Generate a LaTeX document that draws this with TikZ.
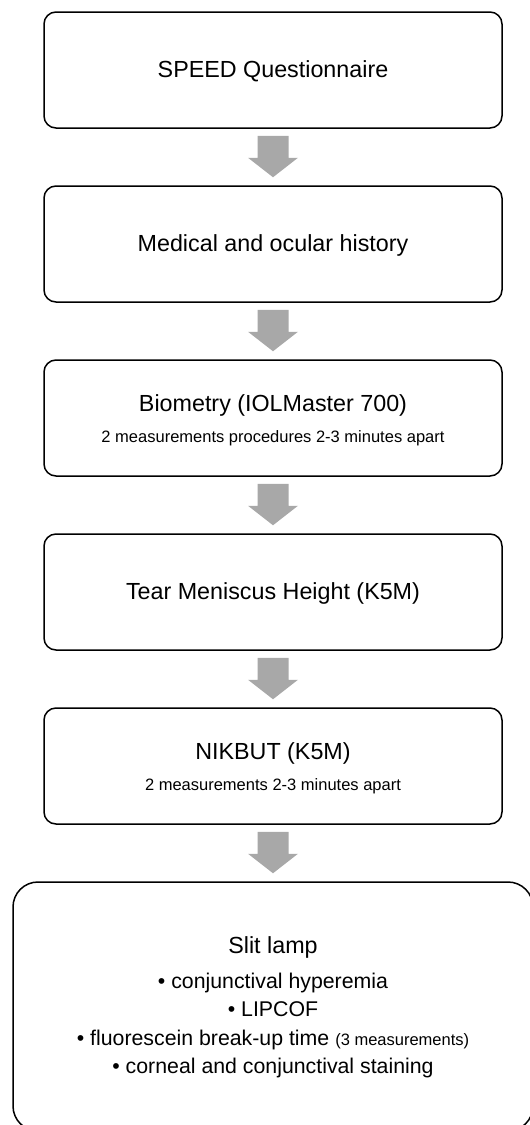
\documentclass[tikz,border=0pt]{standalone}
\usepackage{fontspec}
\setmainfont{Liberation Sans}
\usetikzlibrary{calc}
\definecolor{arrowgray}{RGB}{168,168,168}
\tikzset{
  stepbox/.style={draw=black, line width=1.5pt, rounded corners=12pt, minimum width=458pt, minimum height=116pt, inner sep=0pt},
  bigbox/.style={draw=black, line width=1.5pt, rounded corners=25pt, minimum width=520pt, minimum height=249pt, inner sep=0pt},
  maintext/.style={font=\fontsize{23.3}{27}\selectfont, anchor=base, inner sep=0pt},
  bullettext/.style={font=\fontsize{21.3}{25}\selectfont, anchor=base, inner sep=0pt},
  subtext/.style={font=\fontsize{16.5}{20}\selectfont, anchor=base, inner sep=0pt},
  blockarrow/.style={fill=arrowgray, draw=none}
}
\newcommand{\flowarrow}[2]{%
  \fill[blockarrow] ($(#1.south)+(-15.5,7)$) -- ($(#1.south)+(15.5,7)$) -- ($(#1.south)+(15.5,29)$) -- ($(#1.south)+(25,29)$) -- ($(#2.north)+(0,-8)$) -- ($(#1.south)+(-25,29)$) -- ($(#1.south)+(-15.5,29)$) -- cycle;}
\begin{document}
\begin{tikzpicture}[x=1pt,y=-1pt]
\useasboundingbox (0,0) rectangle (530,1125);
\node[stepbox] (b1) at (273,70) {};
\node[stepbox] (b2) at (273,244) {};
\node[stepbox] (b3) at (273,418) {};
\node[stepbox] (b4) at (273,592) {};
\node[stepbox] (b5) at (273,766) {};
\node[bigbox] (b6) at (273,1006.5) {};

\node[maintext] (t1) at ($(b1.center)+(0,7.5)$) {SPEED Questionnaire};
\node[maintext] (t2) at ($(b2.center)+(0,7.5)$) {Medical and ocular history};
\node[maintext] (t3) at ($(b3.center)+(0,-7)$) {Biometry (IOLMaster 700)};
\node[subtext] (s3) at ($(b3.center)+(0,24)$) {2 measurements procedures 2-3 minutes apart};
\node[maintext] (t4) at ($(b4.center)+(0,7.5)$) {Tear Meniscus Height (K5M)};
\node[maintext] (t5) at ($(b5.center)+(0,-7)$) {NIKBUT (K5M)};
\node[subtext] (s5) at ($(b5.center)+(0,24)$) {2 measurements 2-3 minutes apart};

\node[maintext] (t6) at (273,953) {Slit lamp};
\node[bullettext] (l1) at (273,988) {• conjunctival hyperemia};
\node[bullettext] (l2) at (273,1016.5) {• LIPCOF};
\node[bullettext] (l3) at (273,1045) {• fluorescein break-up time {\fontsize{16.5}{20}\selectfont (3 measurements)}};
\node[bullettext] (l4) at (273,1073) {• corneal and conjunctival staining};

\flowarrow{b1}{b2}
\flowarrow{b2}{b3}
\flowarrow{b3}{b4}
\flowarrow{b4}{b5}
\flowarrow{b5}{b6}
\end{tikzpicture}
\end{document}
